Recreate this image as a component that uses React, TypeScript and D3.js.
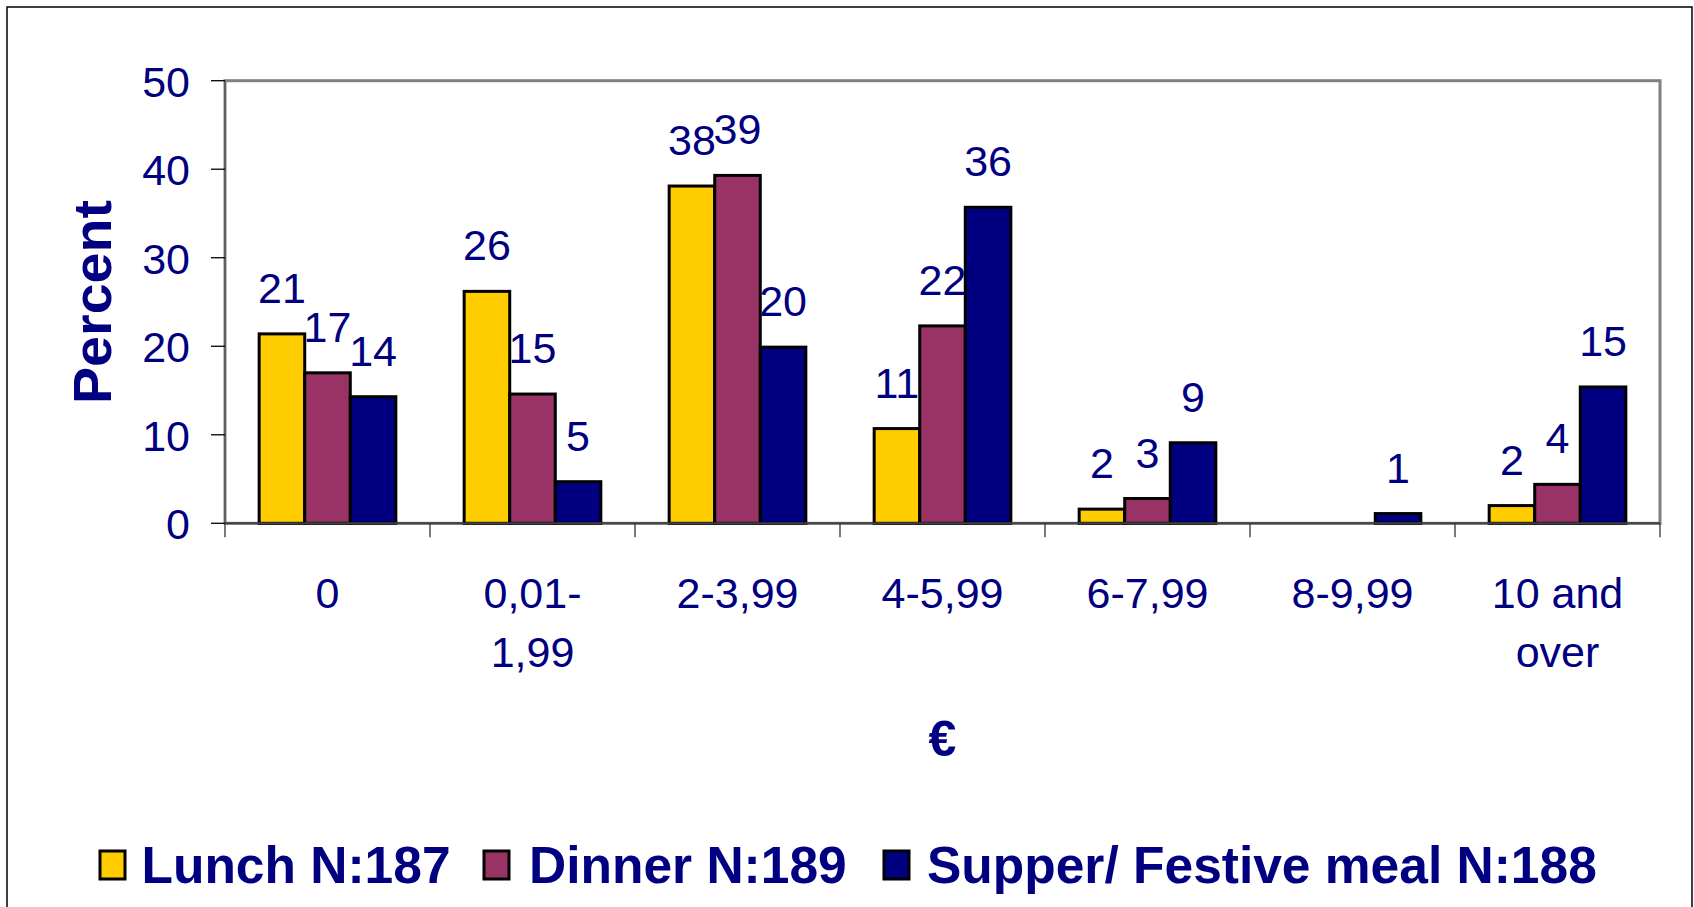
import React from "react";
import * as d3 from "d3";

const categories = ["0", "0,01-|1,99", "2-3,99", "4-5,99", "6-7,99", "8-9,99", "10 and|over"];
const seriesNames = ["Lunch N:187", "Dinner N:189", "Supper/ Festive meal N:188"];
const lunch = [21.4, 26.2, 38.1, 10.7, 1.6, 0, 2.0];
const dinner = [17.0, 14.6, 39.3, 22.3, 2.8, 0, 4.4];
const supper = [14.3, 4.7, 19.9, 35.7, 9.1, 1.1, 15.4];
const yTicks = [0, 10, 20, 30, 40, 50];
const colors = ["#FFCC00", "#993366", "#000080"];

const W = 1694;
const H = 907;
const plot = { left: 225, right: 1660, top: 80.7, bottom: 523.3 };
const TEXT = "#000080";
const FONT = "'Liberation Sans', Arial, sans-serif";

export default function App() {
  const seriesValues = [lunch, dinner, supper];
  const x0 = d3.scaleBand<string>().domain(categories).range([plot.left, plot.right]).paddingInner(0).paddingOuter(0);
  const x1 = d3.scaleBand<number>().domain([0, 1, 2]).range([0, x0.bandwidth()]).paddingInner(0).paddingOuter(0.75);
  const y = d3.scaleLinear().domain([0, 50]).range([plot.bottom, plot.top]);

  const boundaries = categories.map((c) => x0(c)!).concat([plot.right]);

  const legendItems = [
    { sx: 100, tx: 141.5 },
    { sx: 484, tx: 529 },
    { sx: 884, tx: 927 },
  ];

  return (
    <svg width={W} height={H} style={{ position: "absolute", left: 0, top: 0, background: "#fff" }} fontFamily={FONT}>
      <rect x={0} y={0} width={W} height={H} fill="#fff" />
      <rect x={7} y={7} width={1685} height={940} fill="none" stroke="#000" strokeWidth={1.5} />
      {/* plot area */}
      <rect x={plot.left} y={plot.top} width={plot.right - plot.left} height={plot.bottom - plot.top} fill="#fff" stroke="#808080" strokeWidth={3} />
      <line x1={plot.left} x2={plot.left} y1={plot.top} y2={plot.bottom} stroke="#606060" strokeWidth={2} />
      {/* y ticks */}
      {yTicks.map((t) => (
        <g key={t}>
          <line x1={plot.left - 14} x2={plot.left} y1={y(t)} y2={y(t)} stroke="#000" strokeWidth={1.3} />
          <text x={190} y={y(t) + 16} textAnchor="end" fontSize={43} fill={TEXT}>
            {t}
          </text>
        </g>
      ))}
      {/* bars */}
      {categories.map((c, ci) => (
        <g key={c}>
          {seriesValues.map((vals, si) => {
            const v = vals[ci];
            if (!v) return null;
            const bx = x0(c)! + x1(si)!;
            return (
              <rect key={si} x={bx} y={y(v)} width={x1.bandwidth()} height={y(0) - y(v)} fill={colors[si]} stroke="#000" strokeWidth={3} />
            );
          })}
        </g>
      ))}
      {/* baseline */}
      <line x1={plot.left} x2={plot.right} y1={plot.bottom} y2={plot.bottom} stroke="#404040" strokeWidth={2} />
      {/* x ticks */}
      {boundaries.map((bx, i) => (
        <line key={i} x1={bx} x2={bx} y1={plot.bottom} y2={plot.bottom + 14} stroke="#333" strokeWidth={1.3} />
      ))}
      {/* data labels */}
      {categories.map((c, ci) =>
        seriesValues.map((vals, si) => {
          const v = vals[ci];
          if (!v) return null;
          const cx = x0(c)! + x1(si)! + x1.bandwidth() / 2;
          return (
            <text key={c + si} x={cx} y={y(v) - 31} textAnchor="middle" fontSize={43} fill={TEXT}>
              {Math.round(v)}
            </text>
          );
        })
      )}
      {/* x labels */}
      {categories.map((c) => {
        const lines = c.split("|");
        const cx = x0(c)! + x0.bandwidth() / 2;
        return (
          <text key={c} textAnchor="middle" fontSize={43} fill={TEXT}>
            {lines.map((l, i) => (
              <tspan key={i} x={cx} y={608 + i * 59}>
                {l}
              </tspan>
            ))}
          </text>
        );
      })}
      {/* axis titles */}
      <text x={(plot.left + plot.right) / 2} y={756} textAnchor="middle" fontSize={50} fontWeight="bold" fill={TEXT}>
        €
      </text>
      <text
        transform={`translate(111, ${(plot.top + plot.bottom) / 2}) rotate(-90)`}
        textAnchor="middle"
        fontSize={53}
        fontWeight="bold"
        fill={TEXT}
        textLength={204}
        lengthAdjust="spacingAndGlyphs"
      >
        Percent
      </text>
      {/* legend */}
      {seriesNames.map((n, i) => (
        <g key={n}>
          <rect x={legendItems[i].sx} y={851} width={25} height={28} fill={colors[i]} stroke="#000" strokeWidth={3} />
          <text x={legendItems[i].tx} y={883} fontSize={51.5} fontWeight="bold" fill={TEXT}>
            {n}
          </text>
        </g>
      ))}
    </svg>
  );
}
